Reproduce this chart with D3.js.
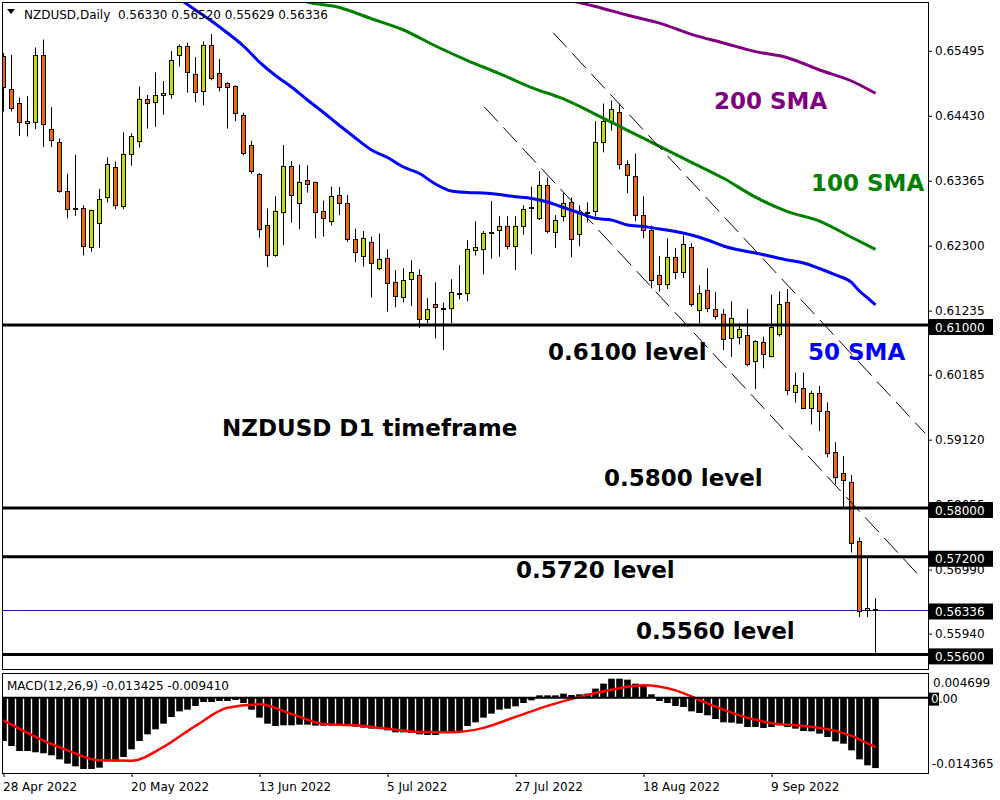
<!DOCTYPE html>
<html>
<head>
<meta charset="utf-8">
<script src="https://cdn.jsdelivr.net/npm/d3@7"></script>
<style>
  body { margin: 0; background: #fff; }
  svg { display: block; font-family: "DejaVu Sans", Verdana, sans-serif; }
</style>
</head>
<body>
<svg id="chart" width="1000" height="800"></svg>
<script>
// daily candles, 28 Apr 2022 .. 28 Sep 2022 (bar index 0..109)
const opens = [
  0.6540, 0.6486, 0.6463, 0.6431, 0.6432, 0.6542, 0.6421, 0.6400, 0.6319, 0.6291,
  0.6291, 0.6227, 0.6267, 0.6309, 0.6359, 0.6295, 0.6380, 0.6401, 0.6470, 0.6465,
  0.6477, 0.6478, 0.6542, 0.6557, 0.6511, 0.6483, 0.6559, 0.6513, 0.6496, 0.6491,
  0.6444, 0.6395, 0.6346, 0.6263, 0.6214, 0.6285, 0.6360, 0.6300, 0.6337, 0.6334,
  0.6286, 0.6270, 0.6313, 0.6300, 0.6240, 0.6213, 0.6236, 0.6193, 0.6209, 0.6170,
  0.6145, 0.6175, 0.6181, 0.6109, 0.6134, 0.6127, 0.6127, 0.6151, 0.6152, 0.6222,
  0.6224, 0.6251, 0.6255, 0.6262, 0.6229, 0.6262, 0.6291, 0.6275, 0.6329, 0.6252,
  0.6278, 0.6301, 0.6249, 0.6285, 0.6286, 0.6400, 0.6434, 0.6449, 0.6363, 0.6344,
  0.6280, 0.6255, 0.6181, 0.6167, 0.6211, 0.6186, 0.6227, 0.6124, 0.6157, 0.6126,
  0.6118, 0.6078, 0.6080, 0.6083, 0.6040, 0.6072, 0.6049, 0.6085, 0.6137, 0.5990,
  0.5996, 0.5963, 0.5988, 0.5959, 0.5891, 0.5857, 0.5842, 0.5745, 0.5632, 0.56330
];
const highs = [
  0.6546, 0.6543, 0.6473, 0.6475, 0.6555, 0.6568, 0.6457, 0.6406, 0.6348, 0.6379,
  0.6296, 0.6289, 0.6323, 0.6375, 0.6368, 0.6416, 0.6414, 0.6491, 0.6477, 0.6514,
  0.6500, 0.6549, 0.6560, 0.6563, 0.6539, 0.6565, 0.6577, 0.6536, 0.6498, 0.6493,
  0.6448, 0.6402, 0.6349, 0.6291, 0.6311, 0.6395, 0.6369, 0.6363, 0.6362, 0.6335,
  0.6304, 0.6327, 0.6326, 0.6313, 0.6258, 0.6254, 0.6245, 0.6250, 0.6224, 0.6190,
  0.6193, 0.6206, 0.6191, 0.6144, 0.6170, 0.6137, 0.6175, 0.6198, 0.6239, 0.6270,
  0.6254, 0.6303, 0.6278, 0.6278, 0.6278, 0.6296, 0.6327, 0.6352, 0.6342, 0.6280,
  0.6316, 0.6309, 0.6296, 0.6301, 0.6434, 0.6463, 0.6468, 0.6463, 0.6370, 0.6381,
  0.6311, 0.6263, 0.6213, 0.6242, 0.6226, 0.6247, 0.6234, 0.6165, 0.6193, 0.6154,
  0.6126, 0.6139, 0.6103, 0.6126, 0.6075, 0.6081, 0.6150, 0.6155, 0.6159, 0.6022,
  0.6022, 0.5992, 0.6000, 0.5973, 0.5908, 0.5885, 0.5854, 0.5752, 0.5718, 0.56520
];
const lows = [
  0.6450, 0.6450, 0.6410, 0.6409, 0.6421, 0.6392, 0.6392, 0.6317, 0.6275, 0.6279,
  0.6214, 0.6220, 0.6227, 0.6301, 0.6290, 0.6290, 0.6361, 0.6391, 0.6422, 0.6425,
  0.6445, 0.6471, 0.6524, 0.6481, 0.6465, 0.6460, 0.6501, 0.6483, 0.6422, 0.6434,
  0.6378, 0.6348, 0.6243, 0.6195, 0.6212, 0.6231, 0.6268, 0.6257, 0.6317, 0.6242,
  0.6245, 0.6263, 0.6280, 0.6236, 0.6203, 0.6196, 0.6145, 0.6190, 0.6122, 0.6129,
  0.6137, 0.6131, 0.6095, 0.6103, 0.6078, 0.6059, 0.6103, 0.6142, 0.6139, 0.6214,
  0.6183, 0.6209, 0.6212, 0.6224, 0.6190, 0.6248, 0.6216, 0.6272, 0.6250, 0.6226,
  0.6270, 0.6211, 0.6229, 0.6268, 0.6278, 0.6383, 0.6419, 0.6355, 0.6316, 0.6270,
  0.6242, 0.6160, 0.6155, 0.6159, 0.6175, 0.6177, 0.6130, 0.6103, 0.6121, 0.6109,
  0.6059, 0.6048, 0.6068, 0.6032, 0.5995, 0.6029, 0.6047, 0.6081, 0.5985, 0.5973,
  0.5962, 0.5937, 0.5926, 0.5883, 0.5839, 0.5801, 0.5727, 0.5621, 0.5621, 0.55629
];
const closes = [
  0.6490, 0.6455, 0.6432, 0.6434, 0.6542, 0.6429, 0.6403, 0.6319, 0.6290, 0.6290,
  0.6228, 0.6288, 0.6306, 0.6363, 0.6296, 0.6380, 0.6409, 0.6470, 0.6463, 0.6477,
  0.6480, 0.6534, 0.6557, 0.6514, 0.6481, 0.6559, 0.6504, 0.6490, 0.6490, 0.6447,
  0.6381, 0.6351, 0.6257, 0.6214, 0.6286, 0.6360, 0.6313, 0.6334, 0.6331, 0.6285,
  0.6275, 0.6311, 0.6300, 0.6240, 0.6219, 0.6242, 0.6201, 0.6208, 0.6168, 0.6147,
  0.6173, 0.6186, 0.6109, 0.6126, 0.6129, 0.6126, 0.6154, 0.6152, 0.6224, 0.6227,
  0.6250, 0.6252, 0.6262, 0.6229, 0.6262, 0.6290, 0.6292, 0.6329, 0.6254, 0.6272,
  0.6300, 0.6240, 0.6283, 0.6285, 0.6400, 0.6434, 0.6454, 0.6363, 0.6345, 0.6280,
  0.6255, 0.6173, 0.6167, 0.6211, 0.6186, 0.6232, 0.6134, 0.6152, 0.6127, 0.6114,
  0.6077, 0.6111, 0.6093, 0.6036, 0.6073, 0.6052, 0.6096, 0.6134, 0.5993, 0.6001,
  0.5963, 0.5988, 0.5959, 0.5890, 0.5850, 0.5845, 0.5741, 0.5631, 0.5636, 0.56336
];

// moving averages (bar index -> price)
const sma50Bars = [22, 24, 26, 28, 30, 32, 34, 36, 38, 40, 42, 44, 46, 48, 50, 52, 54, 56, 58, 60, 62, 64, 66,
  68, 70, 72, 74, 76, 78, 80, 82, 84, 86, 88, 90, 92, 94, 96, 98, 100, 102, 104, 106, 107, 108, 109];
const sma50Vals = [0.66344, 0.66164, 0.65983, 0.65787, 0.65574, 0.65311, 0.65090, 0.64902, 0.64688, 0.64484,
  0.64270, 0.64065, 0.63869, 0.63746, 0.63590, 0.63484, 0.63311, 0.63197, 0.63172, 0.63164, 0.63139, 0.63103,
  0.63074, 0.63016, 0.62926, 0.62836, 0.62749, 0.62721, 0.62639, 0.62615, 0.62574, 0.62533, 0.62475, 0.62393,
  0.62295, 0.62229, 0.62180, 0.62123, 0.62066, 0.62016, 0.61926, 0.61820, 0.61697, 0.61557, 0.61443, 0.61328];
const sma100Bars = [36, 38, 42, 46, 50, 54, 58, 62, 66, 70, 74, 78, 82, 86, 90, 94, 98, 102, 106, 109];
const sma100Vals = [0.66377, 0.66295, 0.66205, 0.66020, 0.65836, 0.65574, 0.65336, 0.65120, 0.64892, 0.64706,
  0.64454, 0.64192, 0.63929, 0.63667, 0.63405, 0.63095, 0.62859, 0.62703, 0.62438, 0.62241];
const sma200Bars = [70, 74, 78, 82, 86, 90, 94, 98, 102, 106, 109];
const sma200Vals = [0.66344, 0.66221, 0.66079, 0.65949, 0.65765, 0.65623, 0.65482, 0.65382, 0.65180, 0.65000, 0.64798];

// dashed down-channel (bar index, price)
const channelUpper = [[68.7, 0.65792], [115.2, 0.59225]];
const channelLower = [[60.1, 0.64575], [114.8, 0.56843]];

const levels = [0.61, 0.58, 0.572, 0.556];
const levelNames = ["0.6100 level", "0.5800 level", "0.5720 level", "0.5560 level"];
const bidPrice = 0.56336;
const priceTicks = [0.65495, 0.64430, 0.63365, 0.62300, 0.61235, 0.60185, 0.59120, 0.58055, 0.56990, 0.55940];

// MACD(12,26,9): histogram per bar, signal line sampled
const macdHist = [
  -0.00826, -0.00922, -0.01017, -0.01017, -0.01042, -0.01061, -0.01099, -0.01176, -0.01258, -0.01309,
  -0.01360, -0.01360, -0.01335, -0.01214, -0.01214, -0.01131, -0.00985, -0.00826, -0.00699, -0.00604,
  -0.00496, -0.00369, -0.00261, -0.00229, -0.00159, -0.00083, -0.00083, -0.00064, -0.00064, -0.00044,
  -0.00102, -0.00229, -0.00381, -0.00496, -0.00540, -0.00527, -0.00527, -0.00515, -0.00515, -0.00534,
  -0.00534, -0.00534, -0.00527, -0.00534, -0.00553, -0.00572, -0.00591, -0.00591, -0.00623, -0.00661,
  -0.00661, -0.00674, -0.00699, -0.00712, -0.00712, -0.00674, -0.00655, -0.00648, -0.00540, -0.00470,
  -0.00381, -0.00305, -0.00229, -0.00210, -0.00165, -0.00102, -0.00051, 0.00044, 0.00044, 0.00044,
  0.00076, 0.00051, 0.00064, 0.00076, 0.00172, 0.00267, 0.00362, 0.00362, 0.00343, 0.00267,
  0.00235, 0.00064, -0.00064, -0.00102, -0.00159, -0.00178, -0.00261, -0.00292, -0.00337, -0.00407,
  -0.00470, -0.00477, -0.00496, -0.00559, -0.00559, -0.00578, -0.00559, -0.00527, -0.00559, -0.00591,
  -0.00636, -0.00642, -0.00686, -0.00750, -0.00833, -0.00877, -0.01004, -0.01176, -0.01290, -0.013425
];
const signalBars = [0, 4, 8, 12, 16, 20, 24, 28, 32, 36, 40, 44, 48, 52, 56, 60, 64, 68, 72, 76, 80, 84, 88,
  92, 96, 100, 104, 106, 108, 109];
const signalVals = [-0.00433, -0.00747, -0.01005, -0.01195, -0.01201, -0.00938, -0.00538, -0.00194, -0.00128,
  -0.00309, -0.00500, -0.00528, -0.00593, -0.00656, -0.00660, -0.00576, -0.00366, -0.00156, 0.00015, 0.00149,
  0.00235, 0.00139, -0.00109, -0.00337, -0.00486, -0.00538, -0.00633, -0.00728, -0.00871, -0.00941];
const macdMax = 0.004699;
const macdMin = -0.014365;

const dateBars = [0, 16, 32, 48, 64, 80, 96];
const dateLabels = ["28 Apr 2022", "20 May 2022", "13 Jun 2022", "5 Jul 2022", "27 Jul 2022", "18 Aug 2022", "9 Sep 2022"];

// ---------------------------------------------------------------

const svg = d3.select("#chart");
const left = 2, right = 928, mainTop = 2, mainBottom = 669, macdTop = 673, macdBottom = 773;
const bullColor = "#c4d62c", bearColor = "#f26322";

const x = d3.scaleLinear().domain([0, 115]).range([3.5, 923.5]);
const y = d3.scaleLinear().domain([0.556, 0.61]).range([654.4, 325]);
const ym = d3.scaleLinear().domain([macdMin, macdMax]).range([macdBottom, macdTop]);

const defs = svg.append("defs");
defs.append("clipPath").attr("id", "clipMain")
    .append("rect").attr("x", left).attr("y", mainTop)
    .attr("width", right - left).attr("height", mainBottom - mainTop);
defs.append("clipPath").attr("id", "clipMacd")
    .append("rect").attr("x", left).attr("y", macdTop)
    .attr("width", right - left).attr("height", macdBottom - macdTop);

const main = svg.append("g").attr("clip-path", "url(#clipMain)");

// bid line
main.append("line")
    .attr("x1", left).attr("x2", right)
    .attr("y1", Math.round(y(bidPrice)) + 0.5).attr("y2", Math.round(y(bidPrice)) + 0.5)
    .attr("stroke", "#1a1aa6").attr("stroke-width", 1);

// candles
const barIdx = d3.range(closes.length);
const candles = main.append("g").selectAll("g").data(barIdx).join("g");
candles.append("line")
    .attr("x1", i => x(i)).attr("x2", i => x(i))
    .attr("y1", i => y(highs[i])).attr("y2", i => y(lows[i]))
    .attr("stroke", "#000").attr("stroke-width", 1);
candles.append("rect")
    .attr("x", i => x(i) - 2)
    .attr("width", 4)
    .attr("y", i => y(Math.max(opens[i], closes[i])))
    .attr("height", i => Math.max(1, Math.abs(y(opens[i]) - y(closes[i]))))
    .attr("fill", i => closes[i] >= opens[i] ? bullColor : bearColor)
    .attr("stroke", "#000").attr("stroke-width", 1)
    .attr("shape-rendering", "crispEdges");

// moving averages
const smaLine = d3.line().x(d => x(d[0])).y(d => y(d[1])).curve(d3.curveMonotoneX);
const smas = [
  {bars: sma200Bars, vals: sma200Vals, color: "#800080"},
  {bars: sma100Bars, vals: sma100Vals, color: "#008000"},
  {bars: sma50Bars, vals: sma50Vals, color: "#0000ff"}
];
smas.forEach(s => {
  main.append("path")
      .datum(s.bars.map((b, k) => [b, s.vals[k]]))
      .attr("d", smaLine)
      .attr("fill", "none")
      .attr("stroke", s.color)
      .attr("stroke-width", 3);
});

// channel lines
const straight = d3.line().x(d => x(d[0])).y(d => y(d[1]));
[channelUpper, channelLower].forEach(c => {
  main.append("path")
      .datum(c)
      .attr("d", straight)
      .attr("stroke", "#000").attr("stroke-width", 1)
      .attr("stroke-dasharray", "20,8")
      .attr("fill", "none");
});

// horizontal levels
main.selectAll(".level").data(levels).join("line")
    .attr("class", "level")
    .attr("x1", left).attr("x2", right)
    .attr("y1", d => y(d)).attr("y2", d => y(d))
    .attr("stroke", "#000").attr("stroke-width", 3);

// annotations
const notes = [
  {text: "NZDUSD D1 timeframe", x: 222, y: 436, color: "#000"},
  {text: levelNames[0], x: 548, y: 360, color: "#000"},
  {text: "50 SMA", x: 808, y: 360, color: "#0000ff"},
  {text: levelNames[1], x: 604, y: 486, color: "#000"},
  {text: levelNames[2], x: 516, y: 578, color: "#000"},
  {text: levelNames[3], x: 636, y: 639, color: "#000"},
  {text: "200 SMA", x: 714, y: 109, color: "#800080"},
  {text: "100 SMA", x: 811, y: 191, color: "#008000"}
];
svg.append("g").selectAll("text").data(notes).join("text")
    .attr("x", d => d.x).attr("y", d => d.y)
    .attr("fill", d => d.color)
    .attr("font-size", 23).attr("font-weight", "bold")
    .text(d => d.text);

// header
svg.append("path").attr("d", "M7,9 L15,9 L11,14 Z").attr("fill", "#000");
svg.append("text").attr("x", 24).attr("y", 19).attr("font-size", 12).attr("fill", "#000")
    .text("NZDUSD,Daily  " + [opens, highs, lows, closes].map(a => a[a.length - 1].toFixed(5)).join(" "))
    .attr("xml:space", "preserve");

// right price axis
const yAxis = d3.axisRight(y).tickValues(priceTicks).tickSize(4).tickPadding(3).tickFormat(d3.format(".5f"));
svg.append("g")
    .attr("transform", `translate(${right},0)`)
    .call(yAxis)
    .call(g => g.select(".domain").remove())
    .call(g => g.selectAll("text").attr("font-size", 12).attr("font-family", "DejaVu Sans").attr("fill", "#000"));

// black price tags
const tags = levels.concat([bidPrice]);
const tagG = svg.append("g").selectAll("g").data(tags).join("g");
tagG.append("rect")
    .attr("x", 929).attr("y", d => y(d) - 6)
    .attr("width", 64).attr("height", 16).attr("fill", "#000");
tagG.append("text")
    .attr("x", 935).attr("y", d => y(d) + 6.5)
    .attr("font-size", 12).attr("fill", "#fff")
    .text(d => d.toFixed(5));

// frames
svg.append("rect").attr("x", left + 0.5).attr("y", mainTop + 0.5)
    .attr("width", right - left).attr("height", mainBottom - mainTop)
    .attr("fill", "none").attr("stroke", "#000");
svg.append("rect").attr("x", left + 0.5).attr("y", macdTop + 0.5)
    .attr("width", right - left).attr("height", macdBottom - macdTop)
    .attr("fill", "none").attr("stroke", "#000");

// MACD panel
const macdG = svg.append("g").attr("clip-path", "url(#clipMacd)");
macdG.selectAll("rect").data(barIdx).join("rect")
    .attr("x", i => x(i) - 3.3)
    .attr("width", 6.6)
    .attr("y", i => Math.min(ym(0), ym(macdHist[i])))
    .attr("height", i => Math.abs(ym(macdHist[i]) - ym(0)))
    .attr("fill", "#000");
macdG.append("path")
    .datum(signalBars.map((b, k) => [b, signalVals[k]]))
    .attr("d", d3.line().x(d => x(d[0])).y(d => ym(d[1])).curve(d3.curveMonotoneX))
    .attr("fill", "none").attr("stroke", "#ff0000").attr("stroke-width", 2.5);
svg.append("line")
    .attr("x1", left).attr("x2", 930)
    .attr("y1", ym(0)).attr("y2", ym(0))
    .attr("stroke", "#000").attr("stroke-width", 2);

svg.append("text").attr("x", 7).attr("y", 690).attr("font-size", 12).attr("fill", "#000")
    .text(`MACD(12,26,9) ${macdHist[macdHist.length - 1].toFixed(6)} ${signalVals[signalVals.length - 1].toFixed(6)}`);

svg.append("text").attr("x", 933).attr("y", 687).attr("font-size", 12).attr("fill", "#000")
    .text(macdMax.toFixed(6));
svg.append("text").attr("x", 932).attr("y", 768).attr("font-size", 12).attr("fill", "#000")
    .text(macdMin.toFixed(6));
svg.append("rect").attr("x", 929).attr("y", ym(0) - 5).attr("width", 10).attr("height", 13).attr("fill", "#000");
const zeroLbl = svg.append("text").attr("x", 931).attr("y", ym(0) + 5).attr("font-size", 12);
zeroLbl.append("tspan").attr("fill", "#fff").text("0");
zeroLbl.append("tspan").attr("fill", "#000").text(".00");

// date axis
const xAxis = d3.axisBottom(x).tickValues(dateBars).tickSize(4).tickFormat((d, k) => dateLabels[k]);
svg.append("g")
    .attr("transform", `translate(0,${macdBottom})`)
    .call(xAxis)
    .call(g => g.select(".domain").remove())
    .call(g => g.selectAll("text")
        .attr("text-anchor", "start").attr("x", -1).attr("y", 9)
        .attr("font-size", 12).attr("font-family", "DejaVu Sans").attr("fill", "#000"));
</script>
</body>
</html>
